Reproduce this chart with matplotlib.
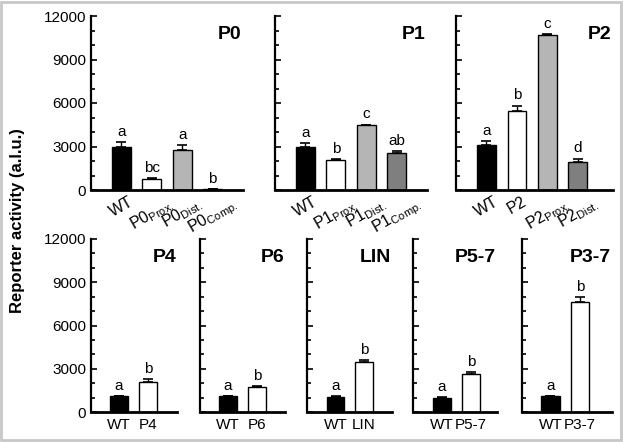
import matplotlib
matplotlib.use("Agg")
import matplotlib.pyplot as plt
from matplotlib.patches import Rectangle
from matplotlib.ticker import MultipleLocator

plt.rcParams['font.family'] = ['Liberation Sans', 'DejaVu Sans']
plt.rcParams['mathtext.fontset'] = 'custom'
plt.rcParams['mathtext.rm'] = 'Liberation Sans'
plt.rcParams['mathtext.it'] = 'Liberation Sans:italic'
plt.rcParams['mathtext.bf'] = 'Liberation Sans:bold'

BLACK, WHITE, LGRAY, DGRAY = 'black', 'white', '#b5b5b5', '#7f7f7f'

# data per panel
titles = ["P0", "P1", "P2", "P4", "P6", "LIN", "P5-7", "P3-7"]
labels = [
    ["WT", r"P0$_{\mathrm{Prox.}}$", r"P0$_{\mathrm{Dist.}}$", r"P0$_{\mathrm{Comp.}}$"],
    ["WT", r"P1$_{\mathrm{Prox.}}$", r"P1$_{\mathrm{Dist.}}$", r"P1$_{\mathrm{Comp.}}$"],
    ["WT", "P2", r"P2$_{\mathrm{Prox.}}$", r"P2$_{\mathrm{Dist.}}$"],
    ["WT", "P4"],
    ["WT", "P6"],
    ["WT", "LIN"],
    ["WT", "P5-7"],
    ["WT", "P3-7"],
]
values = [
    [3000, 750, 2750, 50],
    [2950, 2050, 4450, 2550],
    [3100, 5470, 10700, 1930],
    [1100, 2060],
    [1100, 1750],
    [1060, 3470],
    [1000, 2660],
    [1100, 7630],
]
errors = [
    [300, 80, 320, 30],
    [300, 60, 60, 150],
    [300, 350, 60, 230],
    [30, 200],
    [30, 30],
    [30, 110],
    [30, 90],
    [30, 320],
]
letters = [
    ["a", "bc", "a", "b"],
    ["a", "b", "c", "ab"],
    ["a", "b", "c", "d"],
    ["a", "b"],
    ["a", "b"],
    ["a", "b"],
    ["a", "b"],
    ["a", "b"],
]
colors = [
    [BLACK, WHITE, LGRAY, DGRAY],
    [BLACK, WHITE, LGRAY, DGRAY],
    [BLACK, WHITE, LGRAY, DGRAY],
    [BLACK, WHITE], [BLACK, WHITE], [BLACK, WHITE], [BLACK, WHITE], [BLACK, WHITE],
]

W, H = 623, 442
# pixel boxes: (x0, x1, ytop, ybottom)
boxes = [
    (91, 243, 16, 190), (275, 427, 16, 190), (456, 613, 16, 190),
    (91, 177, 239, 412), (200, 285, 239, 412), (307, 392, 239, 412),
    (413, 497, 239, 412), (522, 612, 239, 412),
]
xlims = [(-1, 4), (-1, 4), (-1, 4.15), (-0.95, 1.98), (-0.95, 1.95),
         (-1.0, 1.98), (-1.0, 1.9), (-0.97, 2.1)]

fig = plt.figure(figsize=(W / 100, H / 100), dpi=100)

for i in range(len(titles)):
    x0, x1, yt, yb = boxes[i]
    ax = fig.add_axes([x0 / W, 1 - yb / H, (x1 - x0) / W, (yb - yt) / H])
    n = len(values[i])
    xs = list(range(n))
    ax.bar(xs, values[i], width=0.62, color=colors[i], edgecolor='black', linewidth=1, zorder=2)
    ax.errorbar(xs, values[i], yerr=[[0] * n, errors[i]], fmt='none', ecolor='black',
                elinewidth=1, capsize=3.5, capthick=1.2, zorder=3)
    for x, v, e, l in zip(xs, values[i], errors[i], letters[i]):
        ax.text(x, v + e + 220, l, ha='center', va='bottom', fontsize=11)
    ax.set_ylim(0, 12000)
    ax.set_xlim(*xlims[i])
    ax.set_xticks(xs)
    top = i < 3
    if top:
        ax.set_xticklabels(labels[i], rotation=30, ha='center', fontsize=11.5)
        ax.tick_params(axis='x', length=0, pad=3)
    else:
        ax.set_xticklabels(labels[i], fontsize=11)
        ax.tick_params(axis='x', length=0, pad=4)
    ax.yaxis.set_major_locator(MultipleLocator(3000))
    ax.yaxis.set_minor_locator(MultipleLocator(1000))
    ax.tick_params(axis='y', which='major', direction='in', length=4, width=1.2, labelsize=11)
    ax.tick_params(axis='y', which='minor', direction='in', length=3, width=1.2)
    if i not in (0, 3):
        ax.set_yticklabels([])
    for s in ('top', 'right'):
        ax.spines[s].set_visible(False)
    ax.spines['left'].set_linewidth(1.6)
    ax.spines['bottom'].set_linewidth(2)
    ax.text(0.99, 0.94, titles[i], transform=ax.transAxes, ha='right', va='top',
            fontsize=14, fontweight='bold')

fig.text(18 / W, 0.5, "Reporter activity (a.l.u.)", rotation=90, ha='center', va='center',
         fontsize=12, fontweight='bold')

fig.patches.append(Rectangle((0.002, 0.004), 0.994, 0.992, transform=fig.transFigure,
                             fill=False, edgecolor='#c8c8c8', linewidth=2))

fig.savefig("out.png", dpi=100)
